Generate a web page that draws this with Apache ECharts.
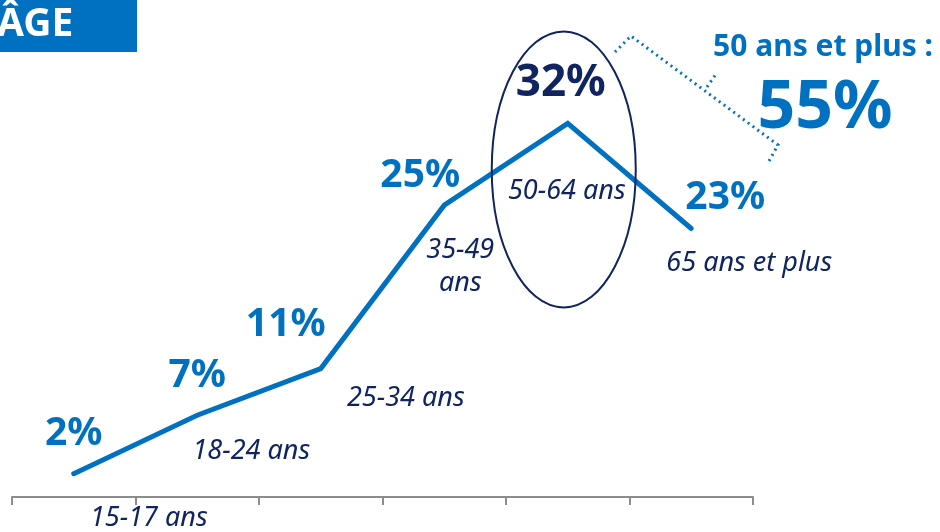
<!DOCTYPE html>
<html><head><meta charset="utf-8">
<script src="https://cdn.jsdelivr.net/npm/echarts@6/dist/echarts.min.js"></script>
<style>html,body{margin:0;padding:0;background:#fff}#c{width:940px;height:532px}</style>
</head><body><div id="c"></div>
<script>
const categories = ['15-17 ans','18-24 ans','25-34 ans','35-49\nans','50-64 ans','65 ans et plus'];
const values = [2, 7, 11, 25, 32, 23];
const valueLabelOffsets = [[0,-40],[0,-39],[-35,-44],[-24,-29],[-7,-40],[34,-31]];
const catLabelOffsets = [[75,45],[54,36],[85,30],[16,62],[-1,68],[58,35]];
const summaryTitle = '50 ans et plus :';
const summaryValue = '55%';

const BLUE = '#0070C0', NAVY = '#0f2460';
const FONT = '"Noto Sans", "Open Sans", sans-serif';
const chart = echarts.init(document.getElementById('c'));

const lineData = values.map((v, i) => ({
  value: v,
  label: {
    offset: valueLabelOffsets[i],
    fontSize: i === 4 ? 44 : 39,
    color: i === 4 ? NAVY : BLUE
  }
}));
const catData = values.map((v, i) => ({
  value: v,
  label: { offset: catLabelOffsets[i], formatter: categories[i] }
}));

function baseGraphics() {
  return [
    { type: 'rect', shape: { x: 0, y: 0, width: 137, height: 52 }, style: { fill: BLUE } },
    { type: 'text', x: -3, y: 25, style: { text: 'ÂGE', fill: '#fff', font: 'bold 39px ' + FONT, verticalAlign: 'middle' } },
    { type: 'text', x: 823, y: 47, style: { text: summaryTitle, fill: BLUE, font: 'bold 30px ' + FONT, align: 'center', verticalAlign: 'middle' } },
    { type: 'text', x: 825, y: 109, style: { text: summaryValue, fill: BLUE, font: 'bold 66px ' + FONT, align: 'center', verticalAlign: 'middle' } },
    { type: 'polyline', shape: { points: [[615,52],[631,36],[778,145],[768,163]] }, style: { stroke: BLUE, lineWidth: 3, lineDash: [2,4], fill: null } },
    { type: 'line', shape: { x1: 707, y1: 87, x2: 716, y2: 74 }, style: { stroke: BLUE, lineWidth: 3, lineDash: [2,4] } }
  ];
}

chart.setOption({
  animation: false,
  grid: { left: 12, right: 187, top: 30, bottom: 35 },
  xAxis: {
    type: 'category', data: categories, boundaryGap: true,
    axisLine: { lineStyle: { color: '#8c8c8c', width: 2 } },
    axisTick: { show: true, length: 8, lineStyle: { color: '#8c8c8c', width: 2 } },
    axisLabel: { show: false }
  },
  yAxis: { type: 'value', min: 0, max: 40, show: false, splitLine: { show: false } },
  series: [
    {
      type: 'line', data: lineData, symbol: 'circle', symbolSize: 2, showSymbol: true,
      lineStyle: { color: BLUE, width: 5, cap: 'round', join: 'miter' },
      itemStyle: { color: BLUE },
      label: {
        show: true, position: 'inside', formatter: '{c}%',
        fontFamily: FONT, fontWeight: 'bold', align: 'center', verticalAlign: 'middle'
      },
      z: 3
    },
    {
      type: 'scatter', data: catData, symbolSize: 0, itemStyle: { opacity: 1, color: NAVY },
      label: {
        show: true, position: 'inside', fontFamily: FONT, fontStyle: 'italic',
        fontSize: 27, color: NAVY, opacity: 1, align: 'center', verticalAlign: 'middle', lineHeight: 33
      },
      z: 4
    }
  ],
  graphic: baseGraphics()
});

const peak = chart.convertToPixel({ seriesIndex: 0 }, [4, values[4]]);
chart.setOption({
  graphic: baseGraphics().concat([
    { type: 'ellipse', shape: { cx: peak[0] - 4, cy: peak[1] + 46, rx: 72, ry: 138 }, style: { stroke: NAVY, lineWidth: 2, fill: null }, z: 10 }
  ])
}, { replaceMerge: ['graphic'] });
</script></body></html>
